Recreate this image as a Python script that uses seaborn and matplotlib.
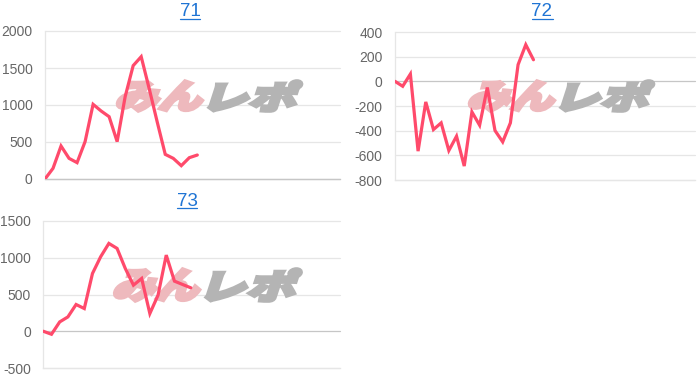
import matplotlib
matplotlib.use("Agg")
import matplotlib.pyplot as plt
import seaborn as sns
import numpy as np
import pandas as pd
from matplotlib.textpath import TextPath
from matplotlib.patches import PathPatch
from matplotlib.font_manager import FontProperties
from matplotlib.transforms import Affine2D, IdentityTransform
from matplotlib.lines import Line2D

# ---------------- data ----------------
titles = ["71", "72", "73"]
values_71 = [0, 144, 446, 279, 221, 505, 1009, 919, 842, 505, 1113, 1532, 1653,
             1220, 770, 333, 279, 180, 288, 324]
values_72 = [0, -40, 59, -566, -167, -391, -337, -561, -445, -687, -248, -356,
             -50, -399, -491, -337, 135, 297, 175]
values_73 = [0, -41, 127, 195, 364, 309, 786, 1014, 1195, 1127, 855, 627, 718,
             241, 491, 1036, 682, 636, 591]
yticks_71 = [0, 500, 1000, 1500, 2000]
yticks_72 = [-800, -600, -400, -200, 0, 200, 400]
yticks_73 = [-500, 0, 500, 1000, 1500]
watermark_a = "みん"
watermark_b = "レポ"

W, H = 700, 378
sns.set_theme(style="white")
plt.rcParams["font.family"] = ["Liberation Sans", "DejaVu Sans"]

fig = plt.figure(figsize=(W / 100, H / 100), dpi=100)

LINE = "#ff4a6b"
GRID = "#e6e6e6"
ZERO = "#c6c6c6"
TICKC = "#666666"
BLUE = "#1f74d4"

# (left, top, right, bottom) in pixels from top-left, xmax, values, yticks, title center
specs = [
    ((45, 31, 340, 179), 36.8, values_71, yticks_71, titles[0], (190, 12)),
    ((395, 32, 695, 180), 39.0, values_72, yticks_72, titles[1], (542, 12)),
    ((43.3, 221, 340, 368), 36.2, values_73, yticks_73, titles[2], (187, 201)),
]

def px_rect(l, t, r, b):
    return [l / W, 1 - b / H, (r - l) / W, (b - t) / H]

fp = FontProperties(family="Noto Sans CJK JP", weight="black")

def watermark(ax, text, box, color):
    # box: (x0, y0_top, x1, y1_bottom) in pixels from top-left
    path = TextPath((0, 0), text, size=1, prop=fp)
    ext = path.get_extents()
    x0, t0, x1, b1 = box
    sx = (x1 - x0) / ext.width
    sy = (b1 - t0) / ext.height
    tr = (Affine2D().translate(-ext.x0, -ext.y0).scale(sx, sy)
          .skew_deg(18, 0).translate(x0 - 4, H - b1))
    p = tr.transform_path(path)
    patch = PathPatch(p, facecolor=color, edgecolor=color, linewidth=2.6,
                      joinstyle="miter",
                      transform=IdentityTransform(), zorder=1.5, clip_on=False)
    ax.add_artist(patch)

axes = []
for (box, xmax, vals, yt, title, tc) in specs:
    ax = fig.add_axes(px_rect(*box))
    df = pd.DataFrame({"x": np.arange(len(vals)), "y": vals})
    sns.lineplot(data=df, x="x", y="y", ax=ax, color=LINE, linewidth=2.3,
                 zorder=3)
    for l in ax.get_lines():
        l.set_solid_joinstyle("miter")
    ax.set_xlim(0, xmax)
    ax.set_ylim(yt[0], yt[-1])
    ax.set_yticks(yt)
    ax.set_yticklabels([str(v) for v in yt])
    ax.set_xticks([])
    ax.set_xlabel("")
    ax.set_ylabel("")
    for yv in yt:
        ax.axhline(yv, color=ZERO if yv == 0 else GRID, lw=0.9, zorder=1,
                   clip_on=False)
    for s in ["top", "right"]:
        ax.spines[s].set_visible(False)
    ax.spines["left"].set_color(GRID)
    ax.spines["left"].set_linewidth(0.9)
    ax.spines["bottom"].set_color(ZERO if yt[0] == 0 else GRID)
    ax.spines["bottom"].set_linewidth(0.9)
    ax.tick_params(axis="y", length=7, width=0.9, color=GRID, pad=2,
                   labelsize=10, labelcolor=TICKC)
    ax.set_facecolor("white")
    fig.text(tc[0] / W, 1 - tc[1] / H, title, ha="center", va="center",
             fontsize=13.5, color=BLUE)
    axes.append(ax)

# watermarks
wm = [
    (axes[0], (119, 81, 203, 111), (212, 81, 297, 111)),
    (axes[1], (471, 81, 555, 111), (564, 81, 649, 111)),
    (axes[2], (116, 269, 200, 301), (209, 269, 296, 301)),
]
for ax, ba, bb in wm:
    watermark(ax, watermark_a, ba, "#eeb9bd")
    watermark(ax, watermark_b, bb, "#b4b4b4")

# underline titles
fig.canvas.draw()
renderer = fig.canvas.get_renderer()
for t in fig.texts:
    bb = t.get_window_extent(renderer)
    y = bb.y0 + 1.5
    fig.add_artist(Line2D([bb.x0, bb.x1], [y, y], transform=IdentityTransform(),
                          color=BLUE, lw=0.9))

fig.savefig("out.png", dpi=100, facecolor="white")
